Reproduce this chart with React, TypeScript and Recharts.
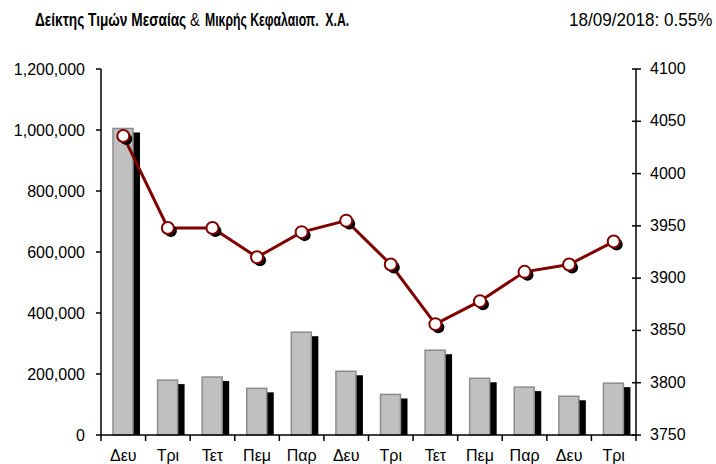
import React from 'react';
import { ComposedChart, Bar, Line, XAxis, YAxis } from 'recharts';

const days = ['Δευ', 'Τρι', 'Τετ', 'Πεμ', 'Παρ', 'Δευ', 'Τρι', 'Τετ', 'Πεμ', 'Παρ', 'Δευ', 'Τρι'];
const volumes = [1005000, 180000, 190000, 153000, 337000, 209000, 133000, 278000, 186000, 157000, 127000, 170000];
const indexValues = [4036, 3948, 3948, 3920, 3944, 3955, 3913, 3856, 3878, 3906, 3913, 3935];
const leftTicks = [0, 200000, 400000, 600000, 800000, 1000000, 1200000];
const rightTicks = [3750, 3800, 3850, 3900, 3950, 4000, 4050, 4100];
const titleParts = ['Δείκτης Τιμών Μεσαίας', '&', 'Μικρής Κεφαλαιοπ.  Χ.Α.'];
const dateText = '18/09/2018: 0.55%';

const data = days.map((d, i) => ({ day: d, vol: volumes[i], idx: indexValues[i] }));

const FONT = "'Liberation Sans', Arial, sans-serif";
const TICK_MARGIN = 15;

const ShadowBar = (props: any) => {
  const { x, y, width, height } = props;
  if (height == null || height <= 0) return null;
  return (
    <g>
      <rect x={x + 7} y={y + 4} width={width} height={Math.max(0, height - 4)} fill="#000" />
      <rect x={x} y={y} width={width} height={height} fill="#c0c0c0" stroke="#8c8c8c" strokeWidth={1.5} />
    </g>
  );
};

const ShadowDot = (props: any) => {
  const { cx, cy, index } = props;
  if (cx == null || cy == null) return null;
  return (
    <g key={`d${index}`}>
      <circle cx={cx + 3} cy={cy + 3} r={6} fill="#000" />
      <circle cx={cx} cy={cy} r={6} fill="#fff" stroke="#800000" strokeWidth={2} />
    </g>
  );
};

const RightTick = (props: any) => {
  const { x, y, payload } = props;
  return (
    <g>
      <line x1={x - 18} x2={x - 9} y1={y} y2={y} stroke="#000" strokeWidth={1.5} />
      <text x={x} y={y} dy={5} textAnchor="start" fontSize={16} fontFamily={FONT} fill="#000">
        {payload.value}
      </text>
    </g>
  );
};

const BottomTick = (props: any) => {
  const { x, y, payload, index, width, visibleTicksCount } = props;
  const count = visibleTicksCount || days.length;
  const bw = (width || 535) / count;
  const axisY = y - TICK_MARGIN;
  const isLast = index === count - 1;
  return (
    <g>
      <line x1={x - bw / 2} x2={x - bw / 2} y1={axisY} y2={axisY + 6} stroke="#000" strokeWidth={1.5} />
      {isLast && (
        <line x1={x + bw / 2} x2={x + bw / 2} y1={axisY} y2={axisY + 6} stroke="#000" strokeWidth={1.5} />
      )}
      <text x={x} y={y} dy="0.71em" textAnchor="middle" fontSize={16} fontFamily={FONT} fill="#000">
        {payload.value}
      </text>
    </g>
  );
};

export default function App() {
  return (
    <div style={{ position: 'absolute', left: 0, top: 0, width: 716, height: 464, background: '#fff' }}>
      <svg width={716} height={40} style={{ position: 'absolute', left: 0, top: 0, overflow: 'hidden' }}>
        <g transform="translate(35,26) scale(0.76,1)">
          <text x={0} y={0} fontFamily={FONT} fontSize={18} fontWeight="bold" fill="#000">
            {titleParts[0]}
          </text>
        </g>
        <g transform="translate(190,26) scale(0.82,1)">
          <text x={0} y={0} fontFamily={FONT} fontSize={18} fill="#000">
            {titleParts[1]}
          </text>
        </g>
        <g transform="translate(205,26) scale(0.68,1)">
          <text x={0} y={0} fontFamily={FONT} fontSize={18} fontWeight="bold" fill="#000" style={{ whiteSpace: 'pre' }}>
            {titleParts[2]}
          </text>
        </g>
        <g transform="translate(569,26) scale(0.95,1)">
          <text x={0} y={0} fontFamily={FONT} fontSize={18} fill="#000">
            {dateText}
          </text>
        </g>
      </svg>
      <ComposedChart
        width={716}
        height={464}
        data={data}
        margin={{ top: 69, right: 20, bottom: 0, left: 41 }}
        barCategoryGap={0}
      >
        <XAxis
          dataKey="day"
          axisLine={{ stroke: '#000', strokeWidth: 1.5 }}
          tickLine={false}
          tickSize={0}
          height={29}
          interval={0}
          tickMargin={TICK_MARGIN}
          tick={<BottomTick />}
        />
        <YAxis
          yAxisId="left"
          orientation="left"
          width={60}
          domain={[0, 1200000]}
          ticks={leftTicks}
          interval={0}
          tickSize={5}
          tickMargin={11}
          tickFormatter={(v: number) => v.toLocaleString('en-US')}
          axisLine={{ stroke: '#000', strokeWidth: 1.5 }}
          tickLine={{ stroke: '#000', strokeWidth: 1.5 }}
          tick={{ fontSize: 16, fontFamily: FONT, fill: '#000' }}
        />
        <YAxis
          yAxisId="right"
          orientation="right"
          width={60}
          domain={[3750, 4100]}
          ticks={rightTicks}
          interval={0}
          tickSize={0}
          tickMargin={14}
          axisLine={{ stroke: '#000', strokeWidth: 1.5 }}
          tickLine={false}
          tick={<RightTick />}
        />
        <Bar
          yAxisId="left"
          dataKey="vol"
          barSize={20}
          shape={<ShadowBar />}
          isAnimationActive={false}
        />
        <Line
          yAxisId="right"
          dataKey="idx"
          stroke="#800000"
          strokeWidth={3}
          dot={<ShadowDot />}
          activeDot={false}
          isAnimationActive={false}
        />
      </ComposedChart>
    </div>
  );
}
